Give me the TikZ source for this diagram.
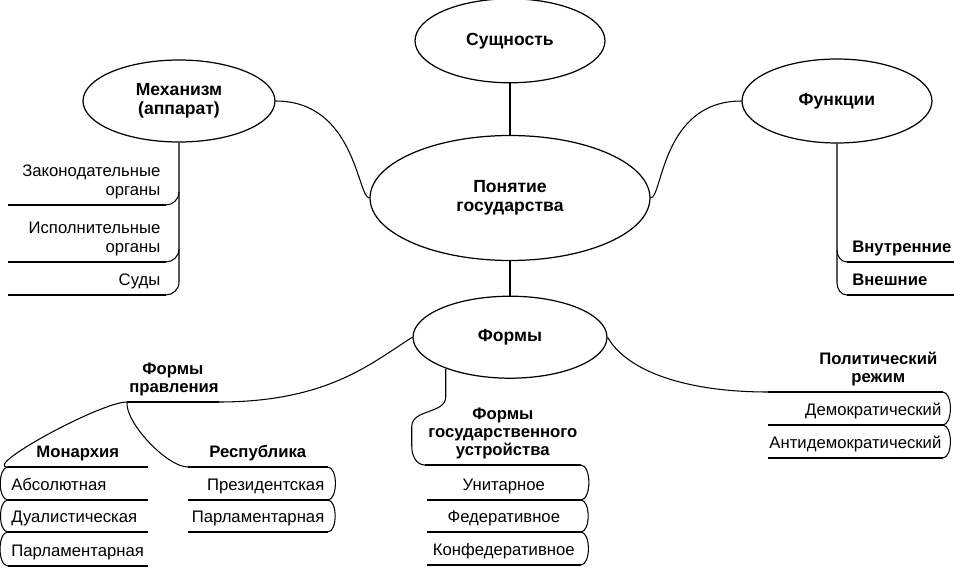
\documentclass[tikz,border=0pt]{standalone}
\usepackage{fontspec}
\setmainfont{Liberation Sans}
\usepackage{tikz}
\usetikzlibrary{positioning, calc, shapes.geometric}
\tikzset{
    ovalnode/.style={
        ellipse, draw, line width=0.7pt, inner sep=0pt, align=center,
        font=\fontsize{10}{10.8}\selectfont\bfseries
    },
    itemnode/.style={
        inner xsep=0.1cm, inner ysep=1.8pt, execute at end node={\strut},
        font=\fontsize{9.5}{11}\selectfont,
        append after command={(\tikzlastnode.south west) edge[ruleline] (\tikzlastnode.south east)}
    },
    headnode/.style={
        itemnode, inner xsep=0.04cm, align=center,
        font=\fontsize{9.5}{10.5}\selectfont\bfseries
    },
    ruleline/.style={
        line width=1.1pt
    },
    linkptr/.style={
        line width=0.6pt
    }
}

\begin{document}
\begin{tikzpicture}[x=0.02cm, y=0.02cm,
    lparen/.style={out=180, in=180, looseness=0.8},
    rparen/.style={out=0, in=0, looseness=0.8}
]
    \useasboundingbox (0,0) rectangle (954,-568);

    % 1. Овалы
    \node[ovalnode, minimum width=5.6cm, minimum height=2.5cm] (concept) at (510,-198) {Понятие\\государства};
    \node[ovalnode, minimum width=3.8cm, minimum height=1.68cm, above=1.03cm of concept] (ess) {Сущность};
    \node[ovalnode, minimum width=3.88cm, minimum height=1.64cm, below=0.69cm of concept] (forms) {Формы};
    \node[ovalnode, minimum width=3.84cm, minimum height=1.64cm] (mech) at (179,-101) {Механизм\\(аппарат)};
    \node[ovalnode, minimum width=3.8cm, minimum height=1.68cm] (func) at (837,-101) {Функции};

    % 2. Механизм и функции
    \node[itemnode, anchor=south west, text width=2.94cm, align=right] (zak) at (8,-205) {Законодательные\\органы};
    \node[itemnode, anchor=south west, text width=2.94cm, align=right] (isp) at (8,-262) {Исполнительные\\органы};
    \node[itemnode, anchor=south west, text width=2.94cm, align=right] (sud) at (8,-295) {Суды};
    \node[itemnode, anchor=south west, text width=1.94cm, align=left, font=\fontsize{9.5}{11}\selectfont\bfseries] (inner) at (847,-262) {Внутренние};
    \node[itemnode, anchor=south west, text width=1.94cm, align=left, font=\fontsize{9.5}{11}\selectfont\bfseries] (outer) at (847,-295) {Внешние};

    % 3. Формы правления
    \node[headnode, anchor=south west, text width=1.74cm] (rule) at (127,-402) {Формы\\правления};
    \node[headnode, anchor=south west, text width=2.70cm] (mon) at (8,-467) {Монархия};
    \node[itemnode, anchor=south west, inner xsep=0.06cm, text width=2.66cm, align=left] (absm) at (8,-500) {Абсолютная};
    \node[itemnode, anchor=south west, inner xsep=0.06cm, text width=2.66cm, align=left] (dual) at (8,-532) {Дуалистическая};
    \node[itemnode, anchor=south west, inner xsep=0.06cm, text width=2.66cm, align=left] (parlm) at (8,-566) {Парламентарная};
    \node[headnode, anchor=south west, text width=2.70cm] (rep) at (188,-467) {Республика};
    \node[itemnode, anchor=south west, inner xsep=0.06cm, text width=2.66cm, align=right] (pres) at (188,-500) {Президентская};
    \node[itemnode, anchor=south west, inner xsep=0.06cm, text width=2.66cm, align=right] (parlr) at (188,-532) {Парламентарная};

    % 4. Формы государственного устройства
    \node[headnode, anchor=south west, text width=3.02cm] (gov) at (425,-465) {Формы\\государственного\\устройства};
    \node[itemnode, anchor=south west, text width=2.86cm, align=center] (unit) at (427,-500) {Унитарное};
    \node[itemnode, anchor=south west, text width=2.86cm, align=center] (fed) at (427,-532) {Федеративное};
    \node[itemnode, anchor=south west, text width=2.86cm, align=center] (conf) at (427,-565) {Конфедеративное};

    % 5. Политический режим
    \node[headnode, anchor=south west, inner xsep=0.1cm, text width=3.28cm, align=right] (regime) at (768,-392) {\begin{tabular}[b]{@{}c@{}}Политический\\режим\end{tabular}};
    \node[itemnode, anchor=south west, inner xsep=0.02cm, text width=3.44cm, align=right] (demo) at (768,-425) {Демократический};
    \node[itemnode, anchor=south west, inner xsep=0.02cm, text width=3.44cm, align=right] (anti) at (768,-458) {Антидемократический};

    % 6. Связи
    \draw[linkptr] (ess.south) -- (concept.north);
    \draw[linkptr] (concept.south) -- (forms.north);
    \draw[linkptr] (mech.east) .. controls +(80,0) and +(-12,0) .. (concept.west);
    \draw[linkptr] (func.west) .. controls +(-80,0) and +(12,0) .. (concept.east);

    \draw[linkptr] (mech.south) -- ($(mech.south |- sud.south)+(0,13)$) to[out=-90, in=0] (sud.south east);
    \draw[linkptr] ($(mech.south |- zak.south)+(0,13)$) to[out=-90, in=0] (zak.south east);
    \draw[linkptr] ($(mech.south |- isp.south)+(0,13)$) to[out=-90, in=0] (isp.south east);
    \draw[linkptr] (func.south) -- ($(func.south |- outer.south)+(0,12)$) to[out=-90, in=180] (outer.south west);
    \draw[linkptr] ($(func.south |- inner.south)+(0,12)$) to[out=-90, in=180] (inner.south west);

    \draw[linkptr] (forms.west) .. controls +(-40,-25) and +(110,0) .. (rule.south east);
    \draw[linkptr] (rule.south west) to[out=180, in=180, looseness=0.5] (mon.south west);
    \draw[linkptr] (rule.south west) to[out=-95, in=180, looseness=0.6] (rep.south west);
    \draw[linkptr] (mon.south west) to[lparen] (absm.south west) to[lparen] (dual.south west) to[lparen] (parlm.south west);
    \draw[linkptr] (rep.south east) to[rparen] (pres.south east) to[rparen] (parlr.south east);

    \draw[linkptr] (forms.206) -- ++(0,-28) to[out=-90, in=90] ++(-34,-30) -- ++(0,-20) to[out=-90, in=180] (gov.south west);
    \draw[linkptr] (gov.south east) to[rparen] (unit.south east) to[rparen] (fed.south east) to[rparen] (conf.south east);

    \draw[linkptr] (forms.east) .. controls +(20,-35) and +(-80,0) .. (regime.south west);
    \draw[linkptr] (regime.south east) to[rparen] (demo.south east) to[rparen] (anti.south east);
\end{tikzpicture}
\end{document}
